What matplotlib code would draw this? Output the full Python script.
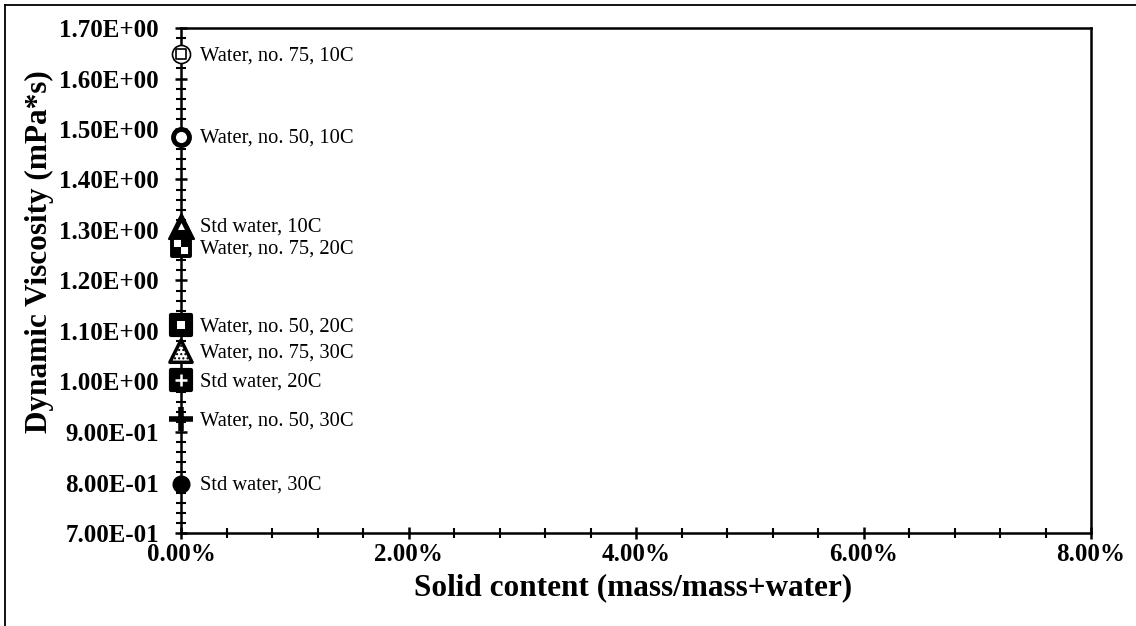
"""Dynamic viscosity of water samples at 0% solid content, one marker per sample."""
import numpy as np, matplotlib
matplotlib.use('Agg'); import matplotlib.pyplot as plt
from matplotlib.markers import MarkerStyle
from matplotlib.lines import Line2D
from matplotlib.path import Path
from matplotlib.ticker import MultipleLocator, FuncFormatter

plt.rcParams['font.family'] = ['Liberation Serif', 'DejaVu Serif']

labels = ['Water, no. 75, 10C', 'Water, no. 50, 10C', 'Std water, 10C', 'Water, no. 75, 20C',
          'Water, no. 50, 20C', 'Water, no. 75, 30C', 'Std water, 20C', 'Water, no. 50, 30C',
          'Std water, 30C']
solid = [0.0, 0.0, 0.0, 0.0, 0.0, 0.0, 0.0, 0.0, 0.0]
visc = [1.648, 1.484, 1.308, 1.266, 1.111, 1.060, 1.002, 0.925, 0.7975]

# two black quadrants (top-right, bottom-left) -> checker inside a white square
def _sq(x0, y0, x1, y1):
    return [(x0, y0), (x1, y0), (x1, y1), (x0, y1), (x0, y0)]
quads = Path(_sq(0, 0, 1, 1) + _sq(-1, -1, 0, 0), [Path.MOVETO, 2, 2, 2, Path.CLOSEPOLY] * 2)

# marker look for each sample: (marker, size, face, edge width, hatch, inner marker)
styles = [('o', 13, 'white', 1.2, None, ('s', 7, 'white', 1.2)),
          ('o', 11.5, 'white', 3.5, None, None),
          ('^', 18, 'black', 1.5, None, ('^', 5, 'white', 0.0)),
          ('s', 13, 'white', 2.8, None, (quads, 12, 'black', 0.0)),
          ('s', 14, 'black', 3.0, None, ('s', 6, 'white', 0.0)),
          ('^', 16, 'white', 2.5, '....', None),
          ('s', 14, 'black', 3.0, None, ('+', 8, 'white', 1.8)),
          ('+', 17, 'black', 4.0, None, None),
          ('o', 12, 'black', 1.0, None, None)]

fig = plt.figure(figsize=(11.36, 6.26), dpi=100)
ax = fig.add_axes([181/1136, 1 - 533/626, 910/1136, 505/626])

for x, y, lab, (m, ms, fc, lw, hatch, inner) in zip(solid, visc, labels, styles):
    ax.scatter([x], [y], marker=MarkerStyle(m, joinstyle='round'), s=ms**2, facecolor=fc,
               edgecolor='black', linewidths=lw, hatch=hatch, zorder=5, clip_on=False)
    if inner is not None:
        im, ims, ifc, ilw = inner
        ax.scatter([x], [y], marker=im, s=ims**2, facecolor=ifc,
                   edgecolor='black' if isinstance(im, Path) or im != '+' else ifc,
                   linewidths=ilw if ilw else 0, zorder=6, clip_on=False)
    ax.annotate(lab, (x, y), xytext=(13.5, -1), textcoords='offset points',
                fontsize=14.8, va='center', ha='left')

ax.set_xlim(0, 0.08); ax.set_ylim(0.7, 1.7)
ax.xaxis.set_major_locator(MultipleLocator(0.02)); ax.xaxis.set_minor_locator(MultipleLocator(0.004))
ax.yaxis.set_major_locator(MultipleLocator(0.1)); ax.yaxis.set_minor_locator(MultipleLocator(0.02))
ax.xaxis.set_major_formatter(FuncFormatter(lambda v, p: f'{v*100:.2f}%'))
ax.yaxis.set_major_formatter(FuncFormatter(lambda v, p: f'{v:.2E}'))
ax.tick_params(which='major', direction='inout', length=8, width=1.8, labelsize=18, pad=3)
ax.tick_params(which='minor', direction='inout', length=6.5, width=1.5)
ax.tick_params(axis='y', which='major', pad=12)
for lbl in ax.get_xticklabels() + ax.get_yticklabels():
    lbl.set_fontweight('bold')
for s in ax.spines.values():
    s.set_linewidth(1.8)

fig.text(633/1136, 1 - 588/626, 'Solid content (mass/mass+water)', fontsize=22.5,
         fontweight='bold', ha='center', va='center')
fig.text(39/1136, 1 - 252/626, 'Dynamic Viscosity (mPa*s)', fontsize=22.5,
         fontweight='bold', ha='center', va='center', rotation=90)

# outer chart frame (only top and left edges fall inside the picture)
fig.add_artist(Line2D([5/1136, 5/1136], [0, 1 - 5/626], color='black', lw=1.3))
fig.add_artist(Line2D([5/1136, 1], [1 - 5/626, 1 - 5/626], color='black', lw=1.3))

plt.savefig('out.png', dpi=100); plt.close()
